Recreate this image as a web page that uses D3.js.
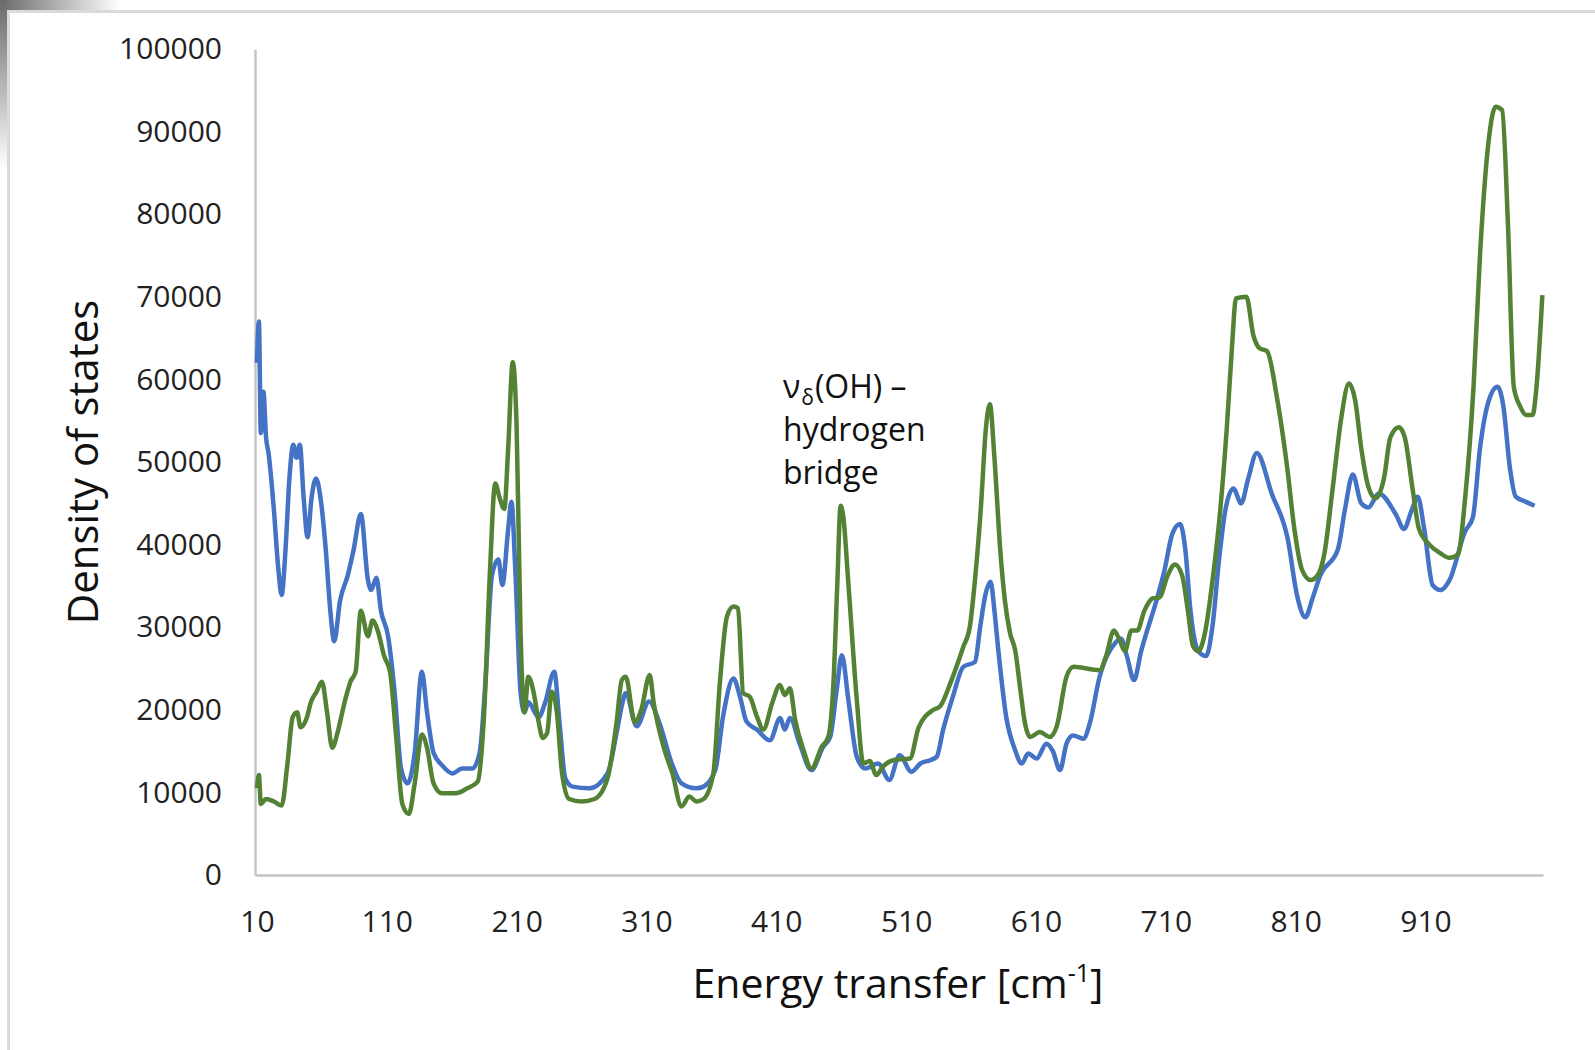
<!DOCTYPE html>
<html>
<head>
<meta charset="utf-8">
<script src="https://cdn.jsdelivr.net/npm/d3@7"></script>
<style>
  body { margin: 0; background: #fff; }
  svg { display: block; font-family: "Open Sans", sans-serif; }
</style>
</head>
<body>
<div id="chart"></div>
<script>
// tick labels
const xTicks = [10, 110, 210, 310, 410, 510, 610, 710, 810, 910];
const yTicks = [0, 10000, 20000, 30000, 40000, 50000, 60000, 70000, 80000, 90000, 100000];

// blue series (energy in cm-1, density of states)
const blueEnergy = [10, 11.5, 13, 15, 17, 19, 23, 26.5, 29, 32, 35, 38, 40.5, 43, 46, 49, 52, 55.5, 59, 63,
  66.5, 69.5, 74, 80, 84.5, 90, 95.5, 98, 102, 105.5, 111, 116, 121, 126, 131.5, 137, 141, 146, 152.5, 160.5,
  168, 176, 181.5, 186, 191, 196, 199, 203.5, 206, 209, 213, 216, 219, 227, 232, 239, 243, 247.5, 253, 266,
  280, 287, 291, 294, 302.5, 312, 320, 329.5, 337, 348.5, 354, 363, 369, 377, 382, 387, 395, 405, 413, 416.5,
  420.5, 428, 437, 446, 451.5, 456.5, 460.5, 465.5, 472, 478.5, 488.5, 497, 505, 514, 521, 528.5, 533.5, 538.5, 546, 554,
  563, 567, 571, 575, 578, 581, 587, 594, 599, 604, 610.5, 618, 623, 628.5, 633.5, 638.5, 646.5, 651.5, 659, 671,
  675.5, 680, 685.5, 691, 704, 709, 715, 721, 725, 729, 735, 741, 746, 751, 756, 762, 768, 773.5, 780, 791.5,
  804, 811, 817.5, 823, 829, 842.5, 848, 854, 860.5, 866, 874, 887, 893.5, 899, 904, 909, 915.5, 921.5, 928.5, 940.5,
  946.5, 952, 958.5, 965.5, 970, 975, 979.5, 987, 994];
const blueDos = [62000, 67000, 53500, 58500, 53000, 51000, 44300, 37000, 33900, 39400, 48000, 52100, 50500, 52100, 45600, 40900, 45600, 48000, 45600, 39400,
  32000, 28300, 33200, 36300, 39400, 43700, 35700, 34500, 36000, 32000, 28900, 22200, 12900, 11100, 14800, 24600, 19700, 14800, 13300, 12300,
  12900, 12900, 14800, 23400, 36300, 38200, 35100, 41900, 45200, 36900, 22200, 19700, 20900, 19100, 20900, 24600, 18500, 11700, 10700, 10500,
  12300, 17200, 20500, 22000, 18000, 21000, 18400, 13500, 11100, 10500, 10700, 12700, 19200, 23800, 21600, 18600, 17600, 16300, 19000, 17600,
  19000, 15900, 12700, 15500, 16700, 22400, 26600, 21200, 14300, 12900, 13500, 11500, 14500, 12500, 13500, 13900, 14300, 17600, 21600, 25200,
  25800, 30000, 33900, 35500, 32000, 27200, 19200, 15100, 13500, 14700, 14100, 15900, 15000, 12700, 15900, 16900, 16500, 18400, 24000, 28100,
  28600, 26500, 23600, 27100, 33900, 36900, 41300, 42500, 39400, 32000, 27100, 26500, 30200, 38200, 44300, 46800, 45000, 48000, 51100, 46200,
  40600, 33900, 31200, 33500, 36300, 39400, 44300, 48500, 45000, 44500, 46200, 43700, 41900, 44000, 45800, 41900, 35100, 34500, 35700, 41600,
  43300, 51700, 57300, 59100, 56700, 49300, 45800, 45200, 44700];

// green series
const greenEnergy = [10, 11.5, 13, 17, 23, 29, 33.5, 37.5, 41, 43.5, 48.5, 51.5, 56, 60, 64, 68, 72, 77.5, 82, 86,
  90, 95.5, 99, 103, 108, 112.5, 117, 122, 127, 131.5, 137, 141, 146, 152.5, 163, 172, 180, 185, 189.5, 193.5,
  197, 200.5, 203.5, 207, 210, 213, 216, 219, 223, 227, 230, 233.5, 237, 241, 245, 250.5, 260, 270, 280, 287,
  291, 294, 301, 306, 312.5, 315.5, 324, 330, 337, 343, 348.5, 354, 361.5, 366.5, 372, 377, 380.5, 384.5, 389.5, 395,
  400, 407, 412.8, 416.5, 420.5, 424.5, 431, 437, 445, 450, 454, 457, 459.5, 461.5, 465.5, 472, 477, 482, 487, 492,
  500, 513, 519.5, 531, 536, 544, 554, 559, 563, 567.5, 571.5, 574.5, 578, 582.5, 586, 590, 594, 598, 601.5, 605.5,
  613, 620.5, 626, 633.5, 639, 659, 664, 670, 674, 678.5, 683.5, 688, 693.5, 700, 705, 711.5, 717, 722.5, 727, 731,
  735, 740.5, 746, 752, 757, 761, 764, 772, 777.5, 782, 788, 795.5, 803.5, 809, 815, 821.5, 827, 832, 838.5, 845,
  851, 856, 860.5, 866, 871.5, 878, 883, 889.5, 894, 900, 905, 913, 921, 928.5, 935, 940.5, 947, 952, 958.5, 964,
  969, 973.5, 978, 983, 987.5, 992.5, 995.5, 1000];
const greenDos = [10500, 12100, 8600, 9200, 8900, 8400, 13500, 19100, 19700, 17900, 19100, 20900, 22200, 23400, 19700, 15400, 17200, 20900, 23400, 24600,
  32000, 28900, 30800, 29600, 26500, 24600, 17200, 8600, 7400, 11100, 17000, 15400, 11100, 9900, 9900, 10500, 11300, 19700, 36900, 47400,
  45600, 44300, 51700, 62100, 54200, 29600, 19700, 24000, 22200, 18500, 16600, 17200, 22200, 19700, 12300, 9200, 8900, 9200, 11700, 18500,
  23600, 24000, 18500, 20000, 24200, 20900, 15100, 12300, 8300, 9500, 8900, 9200, 12300, 23200, 31300, 32500, 32300, 22000, 21600, 19200,
  17600, 20900, 23000, 21800, 22600, 18800, 15100, 12900, 15500, 16700, 23200, 35300, 44700, 43500, 35300, 21200, 13500, 13800, 12100, 13100,
  13900, 14100, 17800, 20000, 20400, 23200, 27600, 30000, 35700, 44300, 54200, 57000, 50500, 39300, 33300, 29300, 27200, 22400, 18400, 16700,
  17300, 16700, 18000, 24000, 25200, 24800, 26500, 29600, 28600, 27100, 29600, 29600, 32000, 33500, 33600, 36300, 37600, 36300, 32000, 27700,
  27100, 29600, 35700, 44300, 54200, 64000, 69800, 70000, 65300, 63800, 63400, 57900, 49300, 41900, 36900, 35700, 36300, 38800, 46800, 55200,
  59500, 57300, 51700, 47000, 45600, 48000, 53000, 54200, 53000, 46800, 41900, 40000, 39000, 38400, 38800, 45600, 59100, 75100, 88700, 93000,
  92600, 78800, 59100, 56700, 55700, 55700, 59100, 70200];

const width = 1595, height = 1050;
const margin = { top: 49, right: 52, bottom: 175, left: 255 };

const svg = d3.select("#chart").append("svg")
  .attr("width", width)
  .attr("height", height);

// screenshot frame with the dark corner shadow
const defs = svg.append("defs");
const gTop = defs.append("linearGradient").attr("id", "shadeTop");
gTop.append("stop").attr("offset", "0%").attr("stop-color", "#6a6a6a");
gTop.append("stop").attr("offset", "100%").attr("stop-color", "#ffffff");
const gLeft = defs.append("linearGradient").attr("id", "shadeLeft")
  .attr("x1", 0).attr("y1", 0).attr("x2", 0).attr("y2", 1);
gLeft.append("stop").attr("offset", "0%").attr("stop-color", "#6a6a6a");
gLeft.append("stop").attr("offset", "100%").attr("stop-color", "#ffffff");

svg.append("rect").attr("x", 0).attr("y", 0).attr("width", width).attr("height", height).attr("fill", "#fff");
svg.append("rect").attr("x", 0).attr("y", 0).attr("width", 120).attr("height", 10).attr("fill", "url(#shadeTop)");
svg.append("rect").attr("x", 0).attr("y", 0).attr("width", 7).attr("height", 170).attr("fill", "url(#shadeLeft)");
svg.append("rect").attr("x", 7).attr("y", 10).attr("width", width - 7).attr("height", 3).attr("fill", "#dadada");
svg.append("rect").attr("x", 7).attr("y", 10).attr("width", 3).attr("height", height - 10).attr("fill", "#dadada");

// scales
const x = d3.scaleLinear()
  .domain([8.5, 1000.5])
  .range([margin.left, width - margin.right]);
const y = d3.scaleLinear()
  .domain([0, 100000])
  .range([height - margin.bottom, margin.top]);

// y axis
const yAxis = svg.append("g")
  .attr("transform", `translate(${margin.left},0)`)
  .call(d3.axisLeft(y).tickValues(yTicks).tickSize(0).tickPadding(33).tickFormat(d3.format("d")));
yAxis.select(".domain").attr("stroke", "#c4c4c4").attr("stroke-width", 2.5);
yAxis.selectAll("text")
  .attr("font-family", "Open Sans").attr("font-size", 30).attr("fill", "#222");

// x axis
const xAxis = svg.append("g")
  .attr("transform", `translate(0,${height - margin.bottom})`)
  .call(d3.axisBottom(x).tickValues(xTicks).tickSize(0).tickFormat(d3.format("d")));
xAxis.select(".domain").attr("stroke", "#c4c4c4").attr("stroke-width", 2.5);
xAxis.selectAll("text")
  .attr("y", 46).attr("dy", "0.35em")
  .attr("font-family", "Open Sans").attr("font-size", 30).attr("fill", "#222");

// lines
const line = d3.line()
  .x(d => x(d[0]))
  .y(d => y(d[1]))
  .curve(d3.curveMonotoneX);

const blueData = blueEnergy.map((e, i) => [e, blueDos[i]]);
const greenData = greenEnergy.map((e, i) => [e, greenDos[i]]);

svg.append("path")
  .datum(blueData)
  .attr("d", line)
  .attr("fill", "none")
  .attr("stroke", "#4472c4")
  .attr("stroke-width", 4.5)
  .attr("stroke-linejoin", "round");

svg.append("path")
  .datum(greenData)
  .attr("d", line)
  .attr("fill", "none")
  .attr("stroke", "#548235")
  .attr("stroke-width", 4.5)
  .attr("stroke-linejoin", "round");

// axis titles
const xTitle = svg.append("text")
  .attr("x", 898).attr("y", 998)
  .attr("text-anchor", "middle")
  .attr("font-size", 41).attr("fill", "#111");
xTitle.append("tspan").text("Energy transfer [cm");
xTitle.append("tspan").attr("font-size", 25).attr("dy", -16).text("-1");
xTitle.append("tspan").attr("dy", 16).text("]");

svg.append("text")
  .attr("transform", "translate(98,462) rotate(-90)")
  .attr("text-anchor", "middle")
  .attr("font-size", 42).attr("fill", "#111")
  .text("Density of states");

// annotation
const note = svg.append("text")
  .attr("x", 783).attr("y", 398)
  .attr("font-size", 32).attr("fill", "#111");
note.append("tspan").text("ν");
note.append("tspan").attr("font-size", 21).attr("dx", 1).attr("dy", 7).text("δ");
note.append("tspan").attr("dx", 1).attr("dy", -7).text("(OH) –");
note.append("tspan").attr("x", 783).attr("dy", 43).text("hydrogen");
note.append("tspan").attr("x", 783).attr("dy", 43).text("bridge");
</script>
</body>
</html>
